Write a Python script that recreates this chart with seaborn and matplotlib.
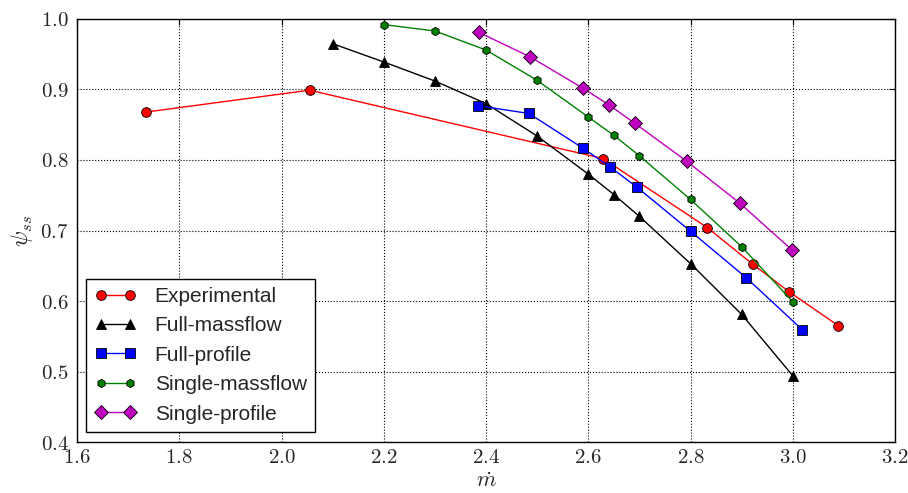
import matplotlib
matplotlib.use("Agg")
import matplotlib.pyplot as plt
import seaborn as sns
import pandas as pd

# ---- data ----
exp_x = [1.735, 2.055, 2.629, 2.833, 2.922, 2.993, 3.089]
exp_y = [0.868, 0.899, 0.802, 0.704, 0.652, 0.613, 0.565]

fm_x = [2.10, 2.20, 2.30, 2.40, 2.50, 2.60, 2.65, 2.70, 2.80, 2.90, 3.00]
fm_y = [0.965, 0.939, 0.912, 0.880, 0.834, 0.780, 0.751, 0.720, 0.653, 0.581, 0.494]

fp_x = [2.384, 2.484, 2.589, 2.643, 2.696, 2.800, 2.909, 3.019]
fp_y = [0.877, 0.866, 0.817, 0.790, 0.761, 0.699, 0.633, 0.559]

sm_x = [2.20, 2.30, 2.40, 2.50, 2.60, 2.65, 2.70, 2.80, 2.90, 3.00]
sm_y = [0.992, 0.983, 0.956, 0.913, 0.861, 0.835, 0.806, 0.744, 0.677, 0.599]

sp_x = [2.386, 2.487, 2.589, 2.641, 2.691, 2.793, 2.896, 2.999]
sp_y = [0.981, 0.946, 0.902, 0.878, 0.852, 0.798, 0.739, 0.672]

labels = ["Experimental", "Full-massflow", "Full-profile", "Single-massflow", "Single-profile"]
colors = ["#ff0000", "#000000", "#0000ff", "#008000", "#bf00bf"]
markers = ["o", "^", "s", "h", "D"]
msizes = [7, 7, 7, 6, 7]

series = [(exp_x, exp_y), (fm_x, fm_y), (fp_x, fp_y), (sm_x, sm_y), (sp_x, sp_y)]

sns.set_style("white")
plt.rcParams["mathtext.fontset"] = "cm"
plt.rcParams["font.family"] = ["Liberation Sans", "DejaVu Sans"]

fig = plt.figure(figsize=(9.08, 4.93), dpi=100)
ax = fig.add_axes([0.0848, 0.1034, 0.9009, 0.8581])

for (xs, ys), lab, c, m, ms in zip(series, labels, colors, markers, msizes):
    df = pd.DataFrame({"x": xs, "y": ys})
    sns.lineplot(data=df, x="x", y="y", ax=ax, color=c, marker=m, markersize=ms,
                 markeredgecolor="black", markeredgewidth=0.6, linewidth=1.0,
                 label=lab, sort=False, estimator=None)

ax.set_xlim(1.6, 3.2)
ax.set_ylim(0.4, 1.0)
xt = [1.6, 1.8, 2.0, 2.2, 2.4, 2.6, 2.8, 3.0, 3.2]
yt = [0.4, 0.5, 0.6, 0.7, 0.8, 0.9, 1.0]
ax.set_xticks(xt)
ax.set_yticks(yt)
ax.set_xticklabels([f"${v:.1f}$" for v in xt], fontsize=15)
ax.set_yticklabels([f"${v:.1f}$" for v in yt], fontsize=15)
ax.tick_params(axis="both", direction="in", top=True, right=True, length=4, width=0.8, color="black")
ax.tick_params(axis="x", pad=4)
ax.tick_params(axis="y", pad=6)
ax.grid(True, linestyle=":", color="black", linewidth=0.8)
for s in ax.spines.values():
    s.set_color("black")
    s.set_linewidth(1.0)

ax.set_xlabel(r"$\dot{m}$", fontsize=16, labelpad=3)
ax.set_ylabel(r"$\psi_{ss}$", fontsize=17, labelpad=4)

leg = ax.legend(loc="lower left", numpoints=2, fancybox=False, framealpha=1,
                edgecolor="black", fontsize=15, borderpad=0.4, labelspacing=0.5,
                handlelength=2.0, handletextpad=0.9, borderaxespad=0,
                bbox_to_anchor=(0.011, 0.024))
leg.get_frame().set_linewidth(1.0)

fig.savefig("out.png", dpi=100)
